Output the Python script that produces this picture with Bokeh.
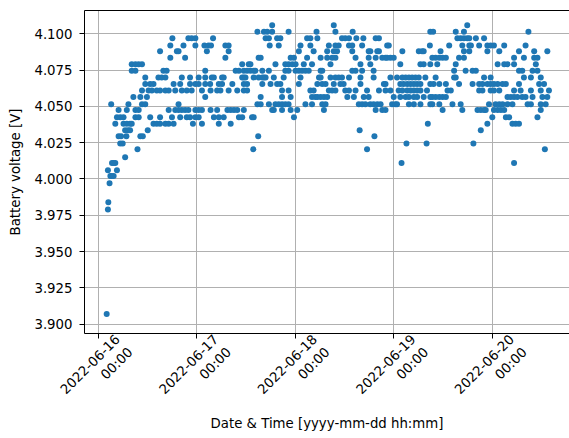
import math
import pandas as pd
from bokeh.plotting import figure
from bokeh.models import (FixedTicker, LinearAxis, Range1d,
                          PrintfTickFormatter, ColumnDataSource)
from bokeh.embed import file_html
from bokeh.resources import INLINE

# ---------------- data (hours after 2022-06-16 00:00, grouped by voltage level) -------------
START = "2022-06-16 00:00"
day_ticks = ["2022-06-16", "2022-06-17", "2022-06-18", "2022-06-19", "2022-06-20"]
y_ticks = [3.900, 3.925, 3.950, 3.975, 4.000, 4.025, 4.050, 4.075, 4.100]

levels = [4.106, 4.1015, 4.097, 4.092, 4.088, 4.0835, 4.079, 4.0745, 4.070, 4.0655,
          4.061, 4.0565, 4.0515, 4.0475, 4.0425, 4.038, 4.0335, 4.0295, 4.0245, 4.0205,
          4.015, 4.011, 4.006, 4.002, 3.997, 3.984, 3.979, 3.907]

h_4106 = [42.4, 57.4, 89.9]
h_4102 = [38.8, 40.4, 41.2, 42.4, 46.4, 53.2, 57.8, 62.0, 80.9, 81.6, 87.1, 89.1, 104.8]
h_4097 = [18.1, 22.0, 22.8, 23.7, 28.0, 40.8, 41.6, 43.6, 44.4, 50.9, 51.7, 53.4,
          59.4, 60.2, 61.1, 62.9, 64.6, 67.6, 68.4, 87.5, 88.3, 89.1, 89.9, 90.4, 92.0, 94.0]
h_4092 = [17.6, 20.8, 23.7, 25.9, 26.9, 27.5, 31.0, 31.8, 41.8, 44.0, 49.3, 51.7,
          56.2, 57.8, 58.6, 61.1, 61.9, 64.3, 70.4, 70.8, 80.8,
          85.5, 88.7, 90.4, 90.8, 92.8, 94.8, 95.6, 96.4, 98.9, 104.1]
h_4088 = [15.1, 19.2, 19.6, 26.5, 31.8, 48.9, 52.5, 55.8, 57.4, 58.2, 61.9, 65.9, 66.3,
          68.0, 68.4, 74.1, 78.1, 78.9, 79.3, 83.4, 89.1, 90.4, 94.8, 97.7, 102.5, 106.2, 109.4]
h_4084 = [17.6, 21.2, 31.0, 39.1, 39.6, 46.9, 47.7, 50.9, 54.2, 55.8, 57.0, 57.8, 62.7,
          65.9, 67.6, 69.2, 70.0, 70.4, 71.2, 72.0, 81.4, 82.2, 83.1, 83.9, 84.7, 87.9,
          89.1, 101.3, 103.7, 106.2, 107.0]
h_4079 = [8.2, 9.1, 9.9, 10.7, 35.1, 36.7, 37.1, 43.2, 45.6, 46.4, 47.3, 48.1, 50.1, 52.1,
          56.6, 63.9, 66.3, 73.6, 78.5, 79.3, 80.9, 82.6, 87.1, 97.3, 98.9, 99.7, 101.3, 106.6]
h_4075 = [8.2, 9.1, 15.9, 16.7, 26.1, 33.5, 34.3, 35.5, 36.3, 37.1, 37.9, 38.3, 40.0, 41.6,
          45.6, 46.4, 48.1, 48.9, 49.7, 50.5, 51.3, 54.2, 54.6, 61.9, 62.7, 64.3, 67.1,
          86.7, 89.5, 91.2, 92.0, 102.5, 103.3, 105.8, 107.0]
h_4070 = [11.5, 14.7, 15.5, 16.4, 20.4, 22.4, 24.5, 26.1, 27.7, 28.2, 30.2, 30.6, 35.1,
          35.5, 35.9, 37.9, 39.1, 40.0, 40.4, 40.8, 42.8, 45.2, 49.3, 53.8, 54.2, 56.6,
          57.8, 58.6, 59.4, 61.1, 63.9, 67.1, 71.2, 72.8, 74.1, 74.9, 75.7, 76.5, 77.3,
          78.1, 79.7, 82.2, 86.7, 87.1, 94.0, 95.6, 103.7, 105.4, 107.8]
h_4066 = [11.5, 12.7, 13.5, 18.4, 20.0, 22.4, 23.7, 24.5, 26.1, 27.3, 29.4, 30.2, 32.7,
          35.5, 36.3, 40.0, 42.0, 43.6, 44.4, 48.9, 53.4, 54.6, 55.4, 57.4, 59.0, 59.8,
          63.9, 69.6, 70.0, 73.6, 74.4, 75.3, 76.1, 76.9, 77.7, 78.5, 80.9, 81.7, 83.1,
          84.7, 87.9, 91.2, 92.8, 93.6, 94.8, 95.6, 96.4, 97.3, 98.5, 99.3, 102.5, 107.4, 108.6]
h_4061 = [10.7, 12.3, 13.1, 14.3, 15.1, 16.4, 17.2, 18.8, 20.4, 21.6, 22.8, 25.3, 27.4,
          29.0, 29.8, 31.8, 33.9, 35.5, 36.3, 44.8, 46.4, 51.7, 52.5, 56.2, 57.0, 57.8,
          60.2, 61.1, 62.7, 65.5, 68.4, 70.0, 71.2, 73.2, 74.1, 75.3, 76.1, 76.9, 77.7,
          78.5, 80.1, 85.1, 85.9, 92.8, 93.6, 95.6, 96.4, 97.7, 101.3, 102.9, 105.4, 107.8, 109.8]
h_4057 = [8.6, 10.3, 11.9, 26.1, 39.6, 44.8, 46.9, 52.1, 52.9, 53.4, 54.2, 55.0, 55.8,
          60.7, 62.3, 64.7, 65.9, 72.0, 73.6, 74.9, 75.7, 76.9, 77.7, 79.3, 80.9, 81.4,
          82.2, 83.1, 83.9, 84.7, 99.7, 100.5, 101.3, 102.1, 103.3, 104.1, 105.8, 108.2, 109.4]
h_4052 = [3.2, 7.4, 10.7, 11.5, 19.6, 38.8, 39.6, 41.6, 43.2, 44.0, 44.8, 45.6, 46.4,
          50.5, 52.1, 54.6, 55.4, 63.5, 64.3, 65.1, 66.3, 67.1, 68.0, 68.8, 71.6, 72.4,
          72.8, 75.7, 76.9, 78.5, 80.9, 81.4, 83.1, 86.3, 88.3, 95.2, 96.8, 97.7, 98.5,
          99.7, 100.9, 104.6, 105.4, 107.8, 109.0]
h_4048 = [5.0, 7.0, 9.1, 9.9, 17.2, 18.8, 19.6, 20.4, 21.2, 22.0, 23.7, 24.5, 25.3, 27.4,
          29.0, 31.5, 32.3, 33.1, 33.9, 35.5, 42.4, 42.8, 44.8, 46.9, 48.5, 55.0, 67.6,
          69.2, 70.0, 83.9, 88.7, 92.4, 93.2, 94.0, 94.4, 96.4, 97.3, 98.1, 98.9, 107.8]
h_4043 = [4.6, 5.4, 6.2, 9.1, 9.9, 12.7, 15.1, 18.0, 20.0, 21.6, 22.4, 23.7, 24.5, 28.2,
          29.4, 30.6, 34.3, 35.1, 37.5, 37.9, 47.7, 96.0, 99.3, 100.1, 107.0]
h_4038 = [4.2, 6.2, 7.0, 7.8, 8.2, 13.5, 14.3, 15.1, 16.4, 17.2, 18.4, 23.1, 25.3, 29.4,
          32.3, 80.3, 94.8, 100.9, 101.7, 102.5]
h_4034 = [6.6, 7.3, 7.8, 12.1, 63.7, 93.2]
h_4030 = [5.0, 5.6, 6.9, 10.3, 10.9, 39.0, 67.3]
h_4025 = [5.4, 6.0, 75.1, 80.0, 91.4]
h_4021 = [9.6, 37.8, 65.5, 108.8]
h_4015 = [6.6]
h_4011 = [3.4, 3.8, 4.2, 73.9, 101.3]
h_4006 = [2.4, 4.6]
h_4002 = [3.0, 3.3, 3.8]
h_3997 = [2.8]
h_3984 = [2.5]
h_3979 = [2.4]
h_3907 = [2.1]

hour_groups = [h_4106, h_4102, h_4097, h_4092, h_4088, h_4084, h_4079, h_4075, h_4070,
               h_4066, h_4061, h_4057, h_4052, h_4048, h_4043, h_4038, h_4034, h_4030,
               h_4025, h_4021, h_4015, h_4011, h_4006, h_4002, h_3997, h_3984, h_3979, h_3907]

# ---------------- build table ----------------
base = pd.Timestamp(START)
hours, volts = [], []
for lev, hs in zip(levels, hour_groups):
    hours.extend(hs)
    volts.extend([lev] * len(hs))
times = base + pd.to_timedelta(hours, unit="h")
src = ColumnDataSource(data=dict(t=times, v=volts))

FONT = "DejaVu Sans"
FS = "13.3px"
BLACK = "#000000"
LABEL_SHIFT_H = 6.3   # matplotlib centres rotated labels on the tick; Bokeh right-anchors them

p = figure(width=569, height=436, x_axis_type="datetime",
           output_backend="svg", toolbar_location=None,
           x_range=Range1d(base - pd.Timedelta(hours=3.3), base + pd.Timedelta(hours=114.8)),
           y_range=Range1d(3.8935, 4.1161),
           min_border_left=84, min_border_right=0, min_border_top=10, min_border_bottom=103)
p.outline_line_color = None
p.background_fill_color = "white"
p.border_fill_color = "white"

p.scatter("t", "v", source=src, size=6, color="#1f77b4", line_width=0)

day_ms = [pd.Timestamp(d).value / 1e6 for d in day_ticks]

# main x axis: line + tick marks only
xa = p.xaxis[0]
xa.ticker = FixedTicker(ticks=day_ms)
xa.major_label_overrides = {t: "" for t in day_ms}
xa.major_label_text_font_size = "0px"
xa.major_label_standoff = 0

# label axis: rotated two-line tick labels + axis title
shift_ms = LABEL_SHIFT_H * 3600 * 1000
lab_ticks = [t + shift_ms for t in day_ms]
xl = LinearAxis(ticker=FixedTicker(ticks=lab_ticks),
                major_label_overrides={t: f"{d}\n00:00" for t, d in zip(lab_ticks, day_ticks)},
                axis_line_color=None, major_tick_line_color=None, minor_tick_line_color=None,
                major_tick_out=0, major_tick_in=0,
                major_label_orientation=math.pi / 4,
                major_label_standoff=5,
                major_label_text_font=FONT, major_label_text_font_size=FS,
                major_label_text_color=BLACK,
                axis_label="Date & Time [yyyy-mm-dd hh:mm]",
                axis_label_standoff=-8,
                axis_label_text_font=FONT, axis_label_text_font_size=FS,
                axis_label_text_font_style="normal", axis_label_text_color=BLACK)
p.add_layout(xl, "below")

ya = p.yaxis[0]
ya.ticker = FixedTicker(ticks=y_ticks)
ya.formatter = PrintfTickFormatter(format="%.3f")
ya.axis_label = "Battery voltage [V]"
ya.major_label_standoff = 7
ya.axis_label_standoff = 8

for ax in (xa, ya):
    ax.axis_line_color = BLACK
    ax.axis_line_width = 1
    ax.major_tick_line_color = BLACK
    ax.major_tick_out = 5
    ax.major_tick_in = 0
    ax.minor_tick_line_color = None
    ax.major_label_text_font = FONT
    ax.major_label_text_color = BLACK
    ax.axis_label_text_font = FONT
    ax.axis_label_text_font_size = FS
    ax.axis_label_text_font_style = "normal"
    ax.axis_label_text_color = BLACK
ya.major_label_text_font_size = FS

top = LinearAxis(ticker=FixedTicker(ticks=[]), axis_line_color=BLACK,
                 major_tick_line_color=None, minor_tick_line_color=None,
                 major_label_text_font_size="0px", major_label_standoff=0,
                 major_tick_out=0, major_tick_in=0)
p.add_layout(top, "above")

for g in (p.xgrid[0], p.ygrid[0]):
    g.grid_line_color = "#b0b0b0"
    g.grid_line_width = 1
p.xgrid[0].ticker = xa.ticker
p.ygrid[0].ticker = ya.ticker

open("out.html", "w").write(file_html(p, INLINE))
